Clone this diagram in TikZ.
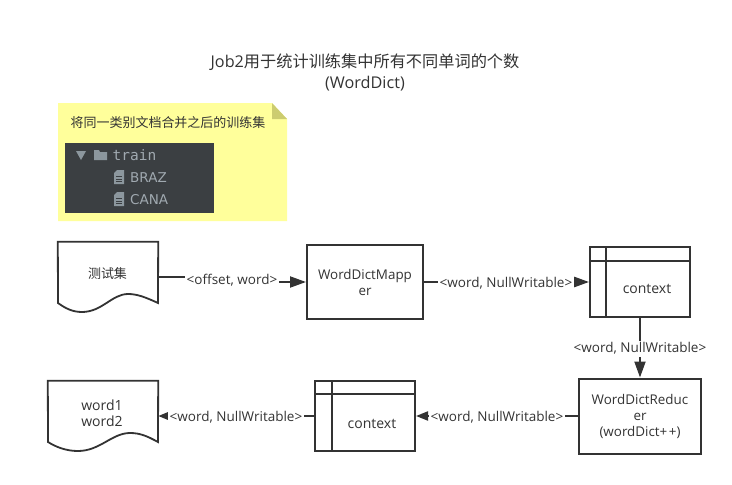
\documentclass[tikz,border=0pt]{standalone}
\usepackage{fontspec}
\setmainfont{Open Sans}
\newfontfamily\cjk{Noto Sans CJK SC}
\newfontfamily\treemono{DejaVu Sans Mono}
\newfontfamily\treesans{DejaVu Sans}
\usetikzlibrary{arrows.meta,calc}
\definecolor{ink}{HTML}{333333}
\definecolor{notey}{HTML}{FFFF9B}
\definecolor{notef}{HTML}{CCCC70}
\definecolor{panel}{HTML}{3B3F42}
\definecolor{treetxt}{HTML}{A0A9B0}
\definecolor{icon}{HTML}{8C979E}
\tikzset{
  x=1pt,y=-1pt,
  every node/.style={text=ink,font=\fontsize{13.4}{16}\selectfont,inner sep=0pt,align=center},
  boxn/.style={draw=ink,line width=2pt,fill=white,minimum width=#1},
  ghost/.style={minimum width=#1,minimum height=70pt},
  shapeline/.style={draw=ink,line width=1.8pt,line join=miter},
  conn/.style={draw=ink,line width=2pt},
  tipbig/.style={-{Triangle[length=16pt,width=11pt]}},
  tipmid/.style={-{Triangle[length=12pt,width=9pt]}},
  tipsmall/.style={-{Triangle[length=10pt,width=7.5pt]}},
  lab/.style={fill=white,inner xsep=2pt,inner ysep=2pt,font=\fontsize{13.5}{16}\selectfont},
  ctxt/.style={font=\fontsize{14}{16}\selectfont},
  treet/.style={text=treetxt},
}
\begin{document}
\begin{tikzpicture}
\useasboundingbox (0,0) rectangle (732,485);
\fill[white] (0,0) rectangle (732,485);

% title
\node[font=\fontsize{16.2}{21}\selectfont] (title) at (365,72) {Job2{\cjk 用于统计训练集中所有不同单词的个数}\\(WordDict)};

% note
\fill[notey] (58,103) -- (272,103) -- (287,119) -- (287,221) -- (58,221) -- cycle;
\fill[notef] (272,103) -- (287,119) -- (272,119) -- cycle;
\node[font=\cjk\fontsize{13}{16}\selectfont] (notetext) at (168,123) {将同一类别文档合并之后的训练集};
\fill[panel] (65,143) rectangle (214,213);
\fill[icon] (76,151) -- (86,151) -- (81,160) -- cycle;
\fill[icon] (94,150) -- (99,150) -- (100,152) -- (107,152) -- (107,160) -- (94,160) -- cycle;
\node[treet,anchor=west,font=\treemono\fontsize{14.5}{16}\selectfont] (train) at (112.5,155) {train};
\foreach \yy/\nm in {177/BRAZ,199/CANA}{
  \fill[icon] (117,\yy-7) -- (124,\yy-7) -- (124,\yy+7) -- (114,\yy+7) -- (114,\yy-4) -- cycle;
  \draw[panel,line width=0.8pt] (116,\yy-0.5) -- (122,\yy-0.5) (116,\yy+2) -- (122,\yy+2) (116,\yy+4.4) -- (122,\yy+4.4);
  \node[treet,anchor=west,font=\treesans\fontsize{13.5}{16}\selectfont] (t\nm) at (130,\yy+0.7) {\nm};
}

% input document
\node[ghost=100pt] (doca) at (108,277) {};
\path[shapeline] (doca.north west) -- (doca.north east) -- (158,303)
  .. controls (145,297) and (137,294) .. (128,294)
  .. controls (112,294) and (102,312) .. (82,312)
  .. controls (72,312) and (65,308) .. (58,303) -- cycle;
\node[font=\cjk\fontsize{13}{16}\selectfont] (docatext) at (107.5,274) {测试集};

% output document
\node[ghost=110pt] (docb) at (103,416) {};
\path[shapeline] (docb.north west) -- (docb.north east) -- (158,442)
  .. controls (147,436) and (140,433) .. (130,433)
  .. controls (112,433) and (100,451) .. (78,451)
  .. controls (66,451) and (56,447) .. (48,442) -- cycle;
\node[ctxt] (docbtext) at (102,413.5) {word1\\word2};

% mapper
\node[boxn=116pt,minimum height=74pt] (mapper) at (365,282) {WordDictMapp\\er};

% context 1
\node[boxn=100pt,minimum height=70pt] (ctxa) at (640,282) {};
\draw[ink,line width=2pt] (ctxa.west|-0,261) -- (ctxa.east|-0,261);
\draw[ink,line width=1.8pt] (606,247) -- (606,317);
\node[ctxt] (ctxatext) at (647,288.5) {context};

% reducer
\node[boxn=122pt,minimum height=75pt] (reducer) at (640,416) {\rule{0pt}{2pt}WordDictReduc\\er\\(wordDict+\kern1.5pt+)};

% context 2
\node[boxn=100pt,minimum height=70pt] (ctxb) at (365,416) {};
\draw[ink,line width=2pt] (ctxb.west|-0,394) -- (ctxb.east|-0,394);
\draw[ink,line width=1.8pt] (332,381) -- (332,451);
\node[ctxt] (ctxbtext) at (372,423.5) {context};

% connectors
\node (elbow) at (232,280) {};
\draw[conn,tipbig] (doca.east) -- (elbow.center|-doca.east) -- (elbow.center|-mapper.west) -- (mapper.west);
\node[lab] (la) at (elbow) {<offset, word>};

\draw[conn,tipbig] (mapper.east) -- (ctxa.west);
\node[lab] (lb) at (506,283) {<word, NullWritable>};

\draw[conn,tipbig] (ctxa.south) -- (reducer.north);
\node[lab] (lc) at (640,348.5) {<word, NullWritable>};

\draw[conn,tipmid] (reducer.west) -- (ctxb.east);
\node[lab] (ld) at (497,417) {<word, NullWritable>};

\draw[conn,tipsmall] (ctxb.west) -- (docb.east);
\node[lab] (le) at (236,417) {<word, NullWritable>};
\end{tikzpicture}
\end{document}
